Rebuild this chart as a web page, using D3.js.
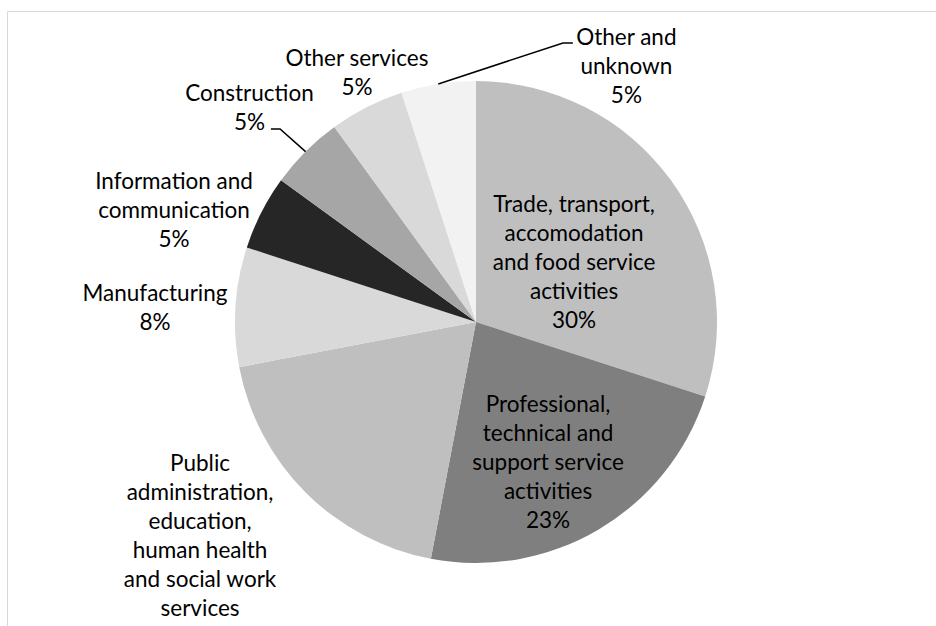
<!doctype html>
<html lang="en">
<head>
<meta charset="utf-8">
<title>Employment by sector</title>
<script src="https://cdn.jsdelivr.net/npm/d3@7"></script>
<style>
  body { margin: 0; background: #fff; }
  text { font-family: Lato, "Open Sans", sans-serif; fill: #000; }
</style>
</head>
<body>
<script>
// chart data
var sectors = [
  ["Trade, transport,", "accomodation", "and food service", "activities"],
  ["Professional,", "technical and", "support service", "activities"],
  ["Public", "administration,", "education,", "human health", "and social work", "services"],
  ["Manufacturing"],
  ["Information and", "communication"],
  ["Construction"],
  ["Other services"],
  ["Other and", "unknown"]
];
var shares = [30, 23, 19, 8, 5, 5, 5, 5];
var greys = ["#bfbfbf", "#7f7f7f", "#bfbfbf", "#d9d9d9", "#262626", "#a6a6a6", "#d9d9d9", "#f2f2f2"];

// label placement, in units of the radius from the pie centre
var labelSpots = [[0.407, -0.247], [0.299, 0.583], [-1.145, 0.950], [-1.332, -0.058],
                  [-1.253, -0.461], [-0.940, -0.886], [-0.494, -1.035], [0.624, -1.058]];
// leader lines (slice index, elbow, end)
var leaders = [[5, [-0.813, -0.801], [-0.851, -0.801]],
               [7, [0.361, -1.158], [0.402, -1.158]]];

var width = 936, height = 626;
var cx = 476, cy = 322, r = 241;
var fontSize = 22.5, lineH = 29;

var svg = d3.select("body").append("svg")
    .attr("width", width).attr("height", height);

// chart area border (only top and left visible)
svg.append("path")
    .attr("d", "M7.5," + height + "V11.5H" + width)
    .attr("fill", "none").attr("stroke", "#d9d9d9").attr("stroke-width", 1);

var pie = d3.pie().sort(null).value(function(d){ return d; });
var arcs = pie(shares);
var arc = d3.arc().innerRadius(0).outerRadius(r);

var g = svg.append("g").attr("transform", "translate(" + cx + "," + cy + ")");

g.selectAll("path.slice")
  .data(arcs)
  .enter().append("path")
    .attr("class", "slice")
    .attr("d", arc)
    .attr("fill", function(d, i){ return greys[i]; });

// leader lines
g.selectAll("path.leader")
  .data(leaders)
  .enter().append("path")
    .attr("class", "leader")
    .attr("fill", "none")
    .attr("stroke", "#000")
    .attr("stroke-width", 1.5)
    .attr("d", function(d){
        var a = arcs[d[0]];
        var mid = (a.startAngle + a.endAngle) / 2;
        var p0 = [r * Math.sin(mid), -r * Math.cos(mid)];
        return "M" + p0[0] + "," + p0[1] +
               "L" + d[1][0] * r + "," + d[1][1] * r +
               "L" + d[2][0] * r + "," + d[2][1] * r;
    });

// labels
var labels = g.selectAll("text.label")
  .data(arcs)
  .enter().append("text")
    .attr("class", "label")
    .attr("text-anchor", "middle")
    .style("font-size", fontSize + "px")
    .attr("transform", function(d, i){
        return "translate(" + labelSpots[i][0] * r + "," + labelSpots[i][1] * r + ")";
    });

labels.each(function(d, i){
    var lines = sectors[i].concat([shares[i] + "%"]);
    var y0 = -(lines.length - 1) * lineH / 2 + fontSize * 0.33;
    var ty = cy + labelSpots[i][1] * r;
    // lines that would fall below the chart area are not drawn (as in the original)
    var shown = lines.map(function(t, j){ return {t: t, y: y0 + j * lineH}; })
        .filter(function(l){ return ty + l.y + 5 < height; });
    d3.select(this).selectAll("tspan")
      .data(shown)
      .enter().append("tspan")
        .attr("x", 0)
        .attr("y", function(l){ return l.y; })
        .text(function(l){ return l.t; });
});
</script>
</body>
</html>
